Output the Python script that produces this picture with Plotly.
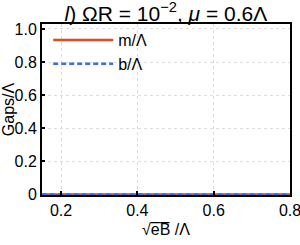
import plotly.graph_objects as go

sqrt_eB = [0.15, 0.2, 0.25, 0.3, 0.35, 0.4, 0.45, 0.5, 0.55, 0.6, 0.65, 0.7, 0.75, 0.8]
m_gap = [0, 0, 0, 0, 0, 0, 0, 0, 0, 0, 0, 0, 0, 0]
b_gap = [0, 0, 0, 0, 0, 0, 0, 0, 0, 0, 0, 0, 0, 0]
y_ticks = [0, 0.2, 0.4, 0.6, 0.8, 1.0]
y_ticktext = ["0", "0.2", "0.4", "0.6", "0.8", "1.0"]
x_ticks = [0.2, 0.4, 0.6, 0.8]

FONT = "Liberation Sans, Arial, sans-serif"
RED = "#D84C1E"
BLUE = "#3A6FE0"

fig = go.Figure()
fig.add_trace(go.Scatter(x=sqrt_eB, y=m_gap, mode="lines", name="m/Λ",
                         line=dict(color=RED, width=2.5)))
fig.add_trace(go.Scatter(x=sqrt_eB, y=b_gap, mode="lines", name="b/Λ",
                         line=dict(color=BLUE, width=2.5, dash="5px,3px")))

fig.update_layout(
    width=300, height=245,
    margin=dict(l=42, r=10, t=24, b=50, autoexpand=False),
    paper_bgcolor="white", plot_bgcolor="white",
    font=dict(family=FONT, size=16, color="black"),
    title=dict(text="<i>l</i>) ΩR = 10<sup>−2</sup>, <i>μ</i> = 0.6Λ",
               x=0.553, xanchor="center", y=0.945, yanchor="middle",
               font=dict(size=21)),
    showlegend=True,
    legend=dict(x=0.025, y=1.005, xanchor="left", yanchor="top",
                bgcolor="rgba(0,0,0,0)", font=dict(size=16),
                itemwidth=60, tracegroupgap=0),
    xaxis=dict(range=[0.15, 0.8], tickvals=x_ticks, ticktext=["0.2", "0.4", "0.6", "0.8"],
               showline=True, linecolor="black", linewidth=2, mirror=True,
               ticks="inside", ticklen=4, tickcolor="black", tickwidth=1.5,
               showgrid=True, gridcolor="#dddddd", griddash="dot", gridwidth=1,
               zeroline=False, automargin=False, ticklabeloverflow="allow",
               title=dict(text="√e̅B̅ /Λ", standoff=6, font=dict(size=16))),
    yaxis=dict(range=[-0.003, 1.03], tickvals=y_ticks, ticktext=y_ticktext,
               showline=True, linecolor="black", linewidth=2, mirror=True,
               ticks="inside", ticklen=3, tickcolor="black", tickwidth=1.5,
               showgrid=True, gridcolor="#dddddd", griddash="dot", gridwidth=1,
               zeroline=False, automargin=False, ticklabeloverflow="allow",
               title=dict(text="Gaps/Λ", standoff=4, font=dict(size=16))),
)

fig.write_html("out.html", config={"displayModeBar": False},
               post_script="document.body.style.margin='0';document.body.style.overflow='hidden';")
